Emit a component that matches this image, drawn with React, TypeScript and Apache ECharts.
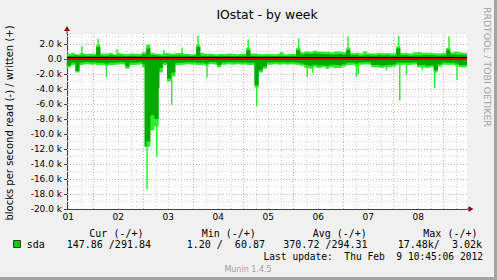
import React, { useEffect, useRef } from "react";
import * as echarts from "echarts";

// time axis in days since Feb 1 00:00; 2-hour samples
const START = 0.475;
const END = 8.475;
const STEP = 1 / 12;
const Y_MIN = -20000;
const Y_MAX = 3333.33;

const dayLabels = ["01", "02", "03", "04", "05", "06", "07", "08"];
const dayLabelPos = [0.5, 1.5, 2.5, 3.5, 4.5, 5.5, 6.5, 7.5];
const yTickValues = [-20000, -18000, -16000, -14000, -12000, -10000, -8000, -6000, -4000, -2000, 0, 2000];

// written (+), average (dark) and max (bright), blocks/s
const writeAvg = [
  450, 500, 420, 480, 400, 450, 430, 1600, 450, 400, 500, 420,
  460, 380, 420, 450, 400, 430, 600, 1400, 500, 450, 400, 450,
  480, 420, 500, 450, 430, 400, 420, 1600, 450, 400, 420, 380,
  450, 400, 420, 380, 400, 430, 420, 1200, 450, 400, 380, 420,
  400, 380, 420, 400, 380, 420, 400, 1200, 600, 700, 650, 750,
  700, 650, 700, 600, 650, 700, 600, 1200, 500, 550, 450, 500,
  480, 450, 520, 480, 500, 450, 480, 1400, 500, 550, 450, 500,
  480, 520, 550, 500, 450, 480, 500, 1200, 600, 550, 600, 500,
];
const writeMax = [
  700, 800, 650, 800, 700, 750, 680, 1900, 750, 700, 800, 650,
  800, 700, 650, 750, 700, 680, 900, 1900, 800, 700, 650, 800,
  750, 700, 800, 850, 700, 650, 700, 1900, 800, 700, 750, 650,
  700, 680, 750, 700, 650, 720, 700, 1500, 750, 700, 650, 700,
  680, 650, 700, 900, 650, 700, 680, 1500, 900, 1000, 950, 1100,
  1000, 950, 1000, 900, 1000, 1000, 900, 1500, 800, 850, 750, 1000,
  780, 750, 820, 780, 800, 750, 780, 1700, 800, 850, 750, 900,
  950, 820, 850, 800, 750, 780, 800, 1500, 900, 1000, 900, 800,
];
// read (-), average (dark) and max (bright)
const readAvg = [
  -850, -500, -1600, -500, -400, -450, -400, -500, -450, -600, -500, -450,
  -400, -450, -1000, -500, -450, -400, -700, -11000, -7500, -8000, -1200, -500,
  -2600, -1800, -500, -450, -400, -450, -400, -500, -450, -600, -400, -450,
  -800, -450, -400, -450, -400, -450, -400, -500, -450, -3500, -1500, -1000,
  -450, -400, -450, -400, -450, -400, -450, -500, -600, -800, -900, -750,
  -850, -800, -900, -750, -800, -850, -700, -500, -450, -600, -450, -400,
  -450, -800, -750, -850, -800, -750, -700, -500, -450, -500, -450, -400,
  -800, -750, -850, -800, -1500, -700, -450, -500, -450, -600, -800, -800,
];
const readMax = [
  -1100, -800, -1800, -800, -700, -750, -700, -800, -750, -900, -800, -750,
  -700, -750, -1300, -800, -750, -700, -1100, -11700, -9500, -9000, -1800, -800,
  -3000, -2300, -800, -750, -700, -750, -700, -800, -750, -900, -700, -750,
  -1100, -750, -700, -750, -700, -750, -700, -800, -750, -3800, -1800, -1300,
  -750, -700, -750, -700, -750, -700, -750, -800, -900, -1200, -1300, -1100,
  -1200, -1100, -1300, -1100, -1200, -1200, -1000, -800, -750, -900, -750, -700,
  -750, -1100, -1100, -1200, -1100, -1100, -1000, -800, -750, -800, -750, -700,
  -1100, -1100, -1200, -1100, -1800, -1000, -750, -800, -750, -900, -1100, -1100,
];
// narrow peaks: [day, blocks/s]
const writeSpikes = [
  [0.781, 1700], [1.105, 2700], [1.481, 1300], [2.101, 1900], [2.415, 1200], [2.781, 1500],
  [3.101, 3100], [4.105, 2600], [5.115, 2750], [5.635, 1000], [6.101, 3000], [7.115, 3070], [8.121, 3000],
];
const readSpikes = [
  [0.485, -1200], [1.269, -2400], [2.081, -17400], [2.275, -13000], [2.575, -6100], [3.281, -2500],
  [4.275, -6300], [5.285, -2400], [5.395, -1900], [6.269, -2400], [6.305, -2000], [6.869, -1500],
  [7.135, -5500], [7.269, -2100], [7.589, -1500], [7.835, -3900], [8.281, -2800],
];
// narrow dark bars inside the read burst
const readDarkSpikes = [[2.045, -11700], [2.305, -3900]];

const DARK = "#00a800";
const BRIGHT = "#2bef2b";
const GRAY_GRID = "#d0d0d0";
const RED_GRID = "#eaa3a3";
const SANS = "DejaVu Sans";
const MONO = "DejaVu Sans Mono";

function steps(vals: number[]) {
  const pts = vals.map((v, i) => [START + i * STEP, v]);
  pts.push([END, vals[vals.length - 1]]);
  return pts;
}

function fmtY(v: number) {
  if (v === 0) return "0.0";
  return (v / 1000).toFixed(1) + " k";
}

export default function App() {
  const ref = useRef<HTMLDivElement>(null);
  useEffect(() => {
    if (!ref.current) return;
    const chart = echarts.init(ref.current, null, { renderer: "svg" });

    const vLines: any[] = [];
    for (let k = 2; k <= 33; k++) {
      const major = k % 4 === 0;
      vLines.push({ xAxis: k / 4, lineStyle: { color: major ? RED_GRID : GRAY_GRID, type: [1, 2], width: 1 } });
    }
    const hLines: any[] = [];
    for (let v = -19000; v <= 3000; v += 1000) {
      const major = v % 2000 === 0;
      hLines.push({ yAxis: v, lineStyle: { color: major ? RED_GRID : GRAY_GRID, type: [1, 2], width: 1 } });
    }

    const areaSeries = (name: string, vals: number[], color: string, z: number) => ({
      name,
      type: "line",
      step: "end",
      data: steps(vals),
      symbol: "none",
      lineStyle: { width: 0, opacity: 0 },
      areaStyle: { color, opacity: 1 },
      z,
      silent: true,
    });

    chart.setOption({
      animation: false,
      backgroundColor: "#f0f0f0",
      grid: { left: 67, right: 30, top: 34, bottom: 71, show: true, backgroundColor: "#ffffff", borderWidth: 0 },
      xAxis: {
        type: "value",
        min: START,
        max: END,
        splitLine: { show: false },
        axisTick: { show: false },
        axisLine: { onZero: false, lineStyle: { color: "#404040", width: 1 } },
        axisLabel: {
          customValues: dayLabelPos,
          formatter: (v: number) => dayLabels[Math.floor(v)] ?? "",
          fontFamily: SANS,
          fontSize: 9,
          color: "#000",
          margin: 3,
        },
      },
      yAxis: {
        type: "value",
        min: Y_MIN,
        max: Y_MAX,
        interval: 2000,
        splitLine: { show: false },
        axisLine: { show: true, onZero: false, lineStyle: { color: "#404040", width: 1 } },
        axisTick: { show: true, customValues: yTickValues, length: 3, lineStyle: { color: "#404040" } },
        axisLabel: {
          customValues: yTickValues,
          formatter: (v: number) => (v % 2000 === 0 ? fmtY(v) : ""),
          fontFamily: SANS,
          fontSize: 9,
          color: "#000",
          margin: 5,
        },
      },
      series: [
        {
          type: "line",
          data: [[START, 0]],
          symbol: "none",
          lineStyle: { opacity: 0 },
          z: 1,
          silent: true,
          markLine: { z: 1, silent: true, symbol: "none", label: { show: false }, data: [...vLines, ...hLines] },
        },
        areaSeries("writeMax", writeMax, BRIGHT, 6),
        areaSeries("readMax", readMax, BRIGHT, 6),
        {
          type: "bar",
          data: [...writeSpikes, ...readSpikes],
          barWidth: 1.5,
          itemStyle: { color: BRIGHT },
          z: 6,
          silent: true,
        },
        areaSeries("writeAvg", writeAvg, DARK, 7),
        areaSeries("readAvg", readAvg, DARK, 7),
        {
          type: "bar",
          data: readDarkSpikes,
          barWidth: 2,
          barGap: "-100%",
          itemStyle: { color: DARK },
          z: 7,
          silent: true,
        },
      ],
    });

    const [xl, yb] = chart.convertToPixel({ gridIndex: 0 }, [START, Y_MIN]) as number[];
    const [xr, yt] = chart.convertToPixel({ gridIndex: 0 }, [END, Y_MAX]) as number[];
    const y0 = (chart.convertToPixel({ gridIndex: 0 }, [START, 0]) as number[])[1];
    const ARROW = "#8b1111";

    chart.setOption({
      graphic: {
        elements: [
          // zero lines
          { type: "line", shape: { x1: xl, y1: y0 - 1.5, x2: xr, y2: y0 - 1.5 }, style: { stroke: "#000", lineWidth: 1 }, z: 50 },
          { type: "line", shape: { x1: xl, y1: y0, x2: xr, y2: y0 }, style: { stroke: "#e00000", lineWidth: 2 }, z: 50 },
          // axis extensions and arrows
          { type: "line", shape: { x1: xl, y1: yt, x2: xl, y2: yt - 4 }, style: { stroke: "#404040", lineWidth: 1 }, z: 50 },
          { type: "polygon", shape: { points: [[xl - 3, yt - 3], [xl + 3, yt - 3], [xl, yt - 8]] }, style: { fill: ARROW }, z: 51 },
          { type: "line", shape: { x1: xr, y1: yb, x2: xr + 2, y2: yb }, style: { stroke: "#404040", lineWidth: 1 }, z: 50 },
          { type: "polygon", shape: { points: [[xr + 1.5, yb - 3], [xr + 1.5, yb + 3], [xr + 6.5, yb]] }, style: { fill: ARROW }, z: 51 },
          // title
          { type: "text", x: 267, y: 14, style: { text: "IOstat - by week", font: `12.4px '${SANS}'`, fill: "#000", align: "center", verticalAlign: "middle" }, z: 60 },
          // y axis name
          {
            type: "text", x: 9.5, y: 123, rotation: Math.PI / 2,
            style: { text: "blocks per second read (-) / written (+)", font: `10px '${SANS}'`, fill: "#000", align: "center", verticalAlign: "middle" }, z: 60,
          },
          // watermark
          {
            type: "text", x: 487.5, y: 7, rotation: -Math.PI / 2,
            style: { text: "RRDTOOL / TOBI OETIKER", font: `9.3px '${SANS}'`, fill: "#a0a0a0", align: "left", verticalAlign: "middle" }, z: 60,
          },
          // legend
          { type: "text", x: 89.3, y: 233, style: { text: "Cur (-/+)", font: `10px '${MONO}'`, fill: "#000", verticalAlign: "middle" }, z: 60 },
          { type: "text", x: 201.7, y: 233, style: { text: "Min (-/+)", font: `10px '${MONO}'`, fill: "#000", verticalAlign: "middle" }, z: 60 },
          { type: "text", x: 312.7, y: 233, style: { text: "Avg (-/+)", font: `10px '${MONO}'`, fill: "#000", verticalAlign: "middle" }, z: 60 },
          { type: "text", x: 423.3, y: 233, style: { text: "Max (-/+)", font: `10px '${MONO}'`, fill: "#000", verticalAlign: "middle" }, z: 60 },
          { type: "rect", shape: { x: 13.5, y: 240.5, width: 7, height: 7 }, style: { fill: "#00cc00", stroke: "#1a1a1a", lineWidth: 0.8 }, z: 60 },
          { type: "text", x: 26.7, y: 244.5, style: { text: "sda", font: `10px '${MONO}'`, fill: "#000", verticalAlign: "middle" }, z: 60 },
          { type: "text", x: 66.7, y: 244.5, style: { text: "147.86 /291.84", font: `10px '${MONO}'`, fill: "#000", verticalAlign: "middle" }, z: 60 },
          { type: "text", x: 186.7, y: 244.5, style: { text: "1.20 /  60.87", font: `10px '${MONO}'`, fill: "#000", verticalAlign: "middle" }, z: 60 },
          { type: "text", x: 283.3, y: 244.5, style: { text: "370.72 /294.31", font: `10px '${MONO}'`, fill: "#000", verticalAlign: "middle" }, z: 60 },
          { type: "text", x: 397.7, y: 244.5, style: { text: "17.48k/  3.02k", font: `10px '${MONO}'`, fill: "#000", verticalAlign: "middle" }, z: 60 },
          { type: "text", x: 483, y: 256.7, style: { text: "Last update:  Thu Feb  9 10:45:06 2012", font: `9.6px '${MONO}'`, fill: "#000", align: "right", verticalAlign: "middle" }, z: 60 },
          { type: "text", x: 248, y: 269.3, style: { text: "Munin 1.4.5", font: `8px '${SANS}'`, fill: "#a0a0a0", align: "center", verticalAlign: "middle" }, z: 60 },
          // frame shading
          { type: "rect", shape: { x: 494, y: 0, width: 3, height: 280 }, style: { fill: "#a3a3a3" }, z: 70 },
          { type: "rect", shape: { x: 0, y: 277, width: 497, height: 3 }, style: { fill: "#a3a3a3" }, z: 70 },
        ],
      },
    });

    return () => chart.dispose();
  }, []);
  return <div ref={ref} style={{ position: "absolute", left: 0, top: 0, width: 497, height: 280 }} />;
}
